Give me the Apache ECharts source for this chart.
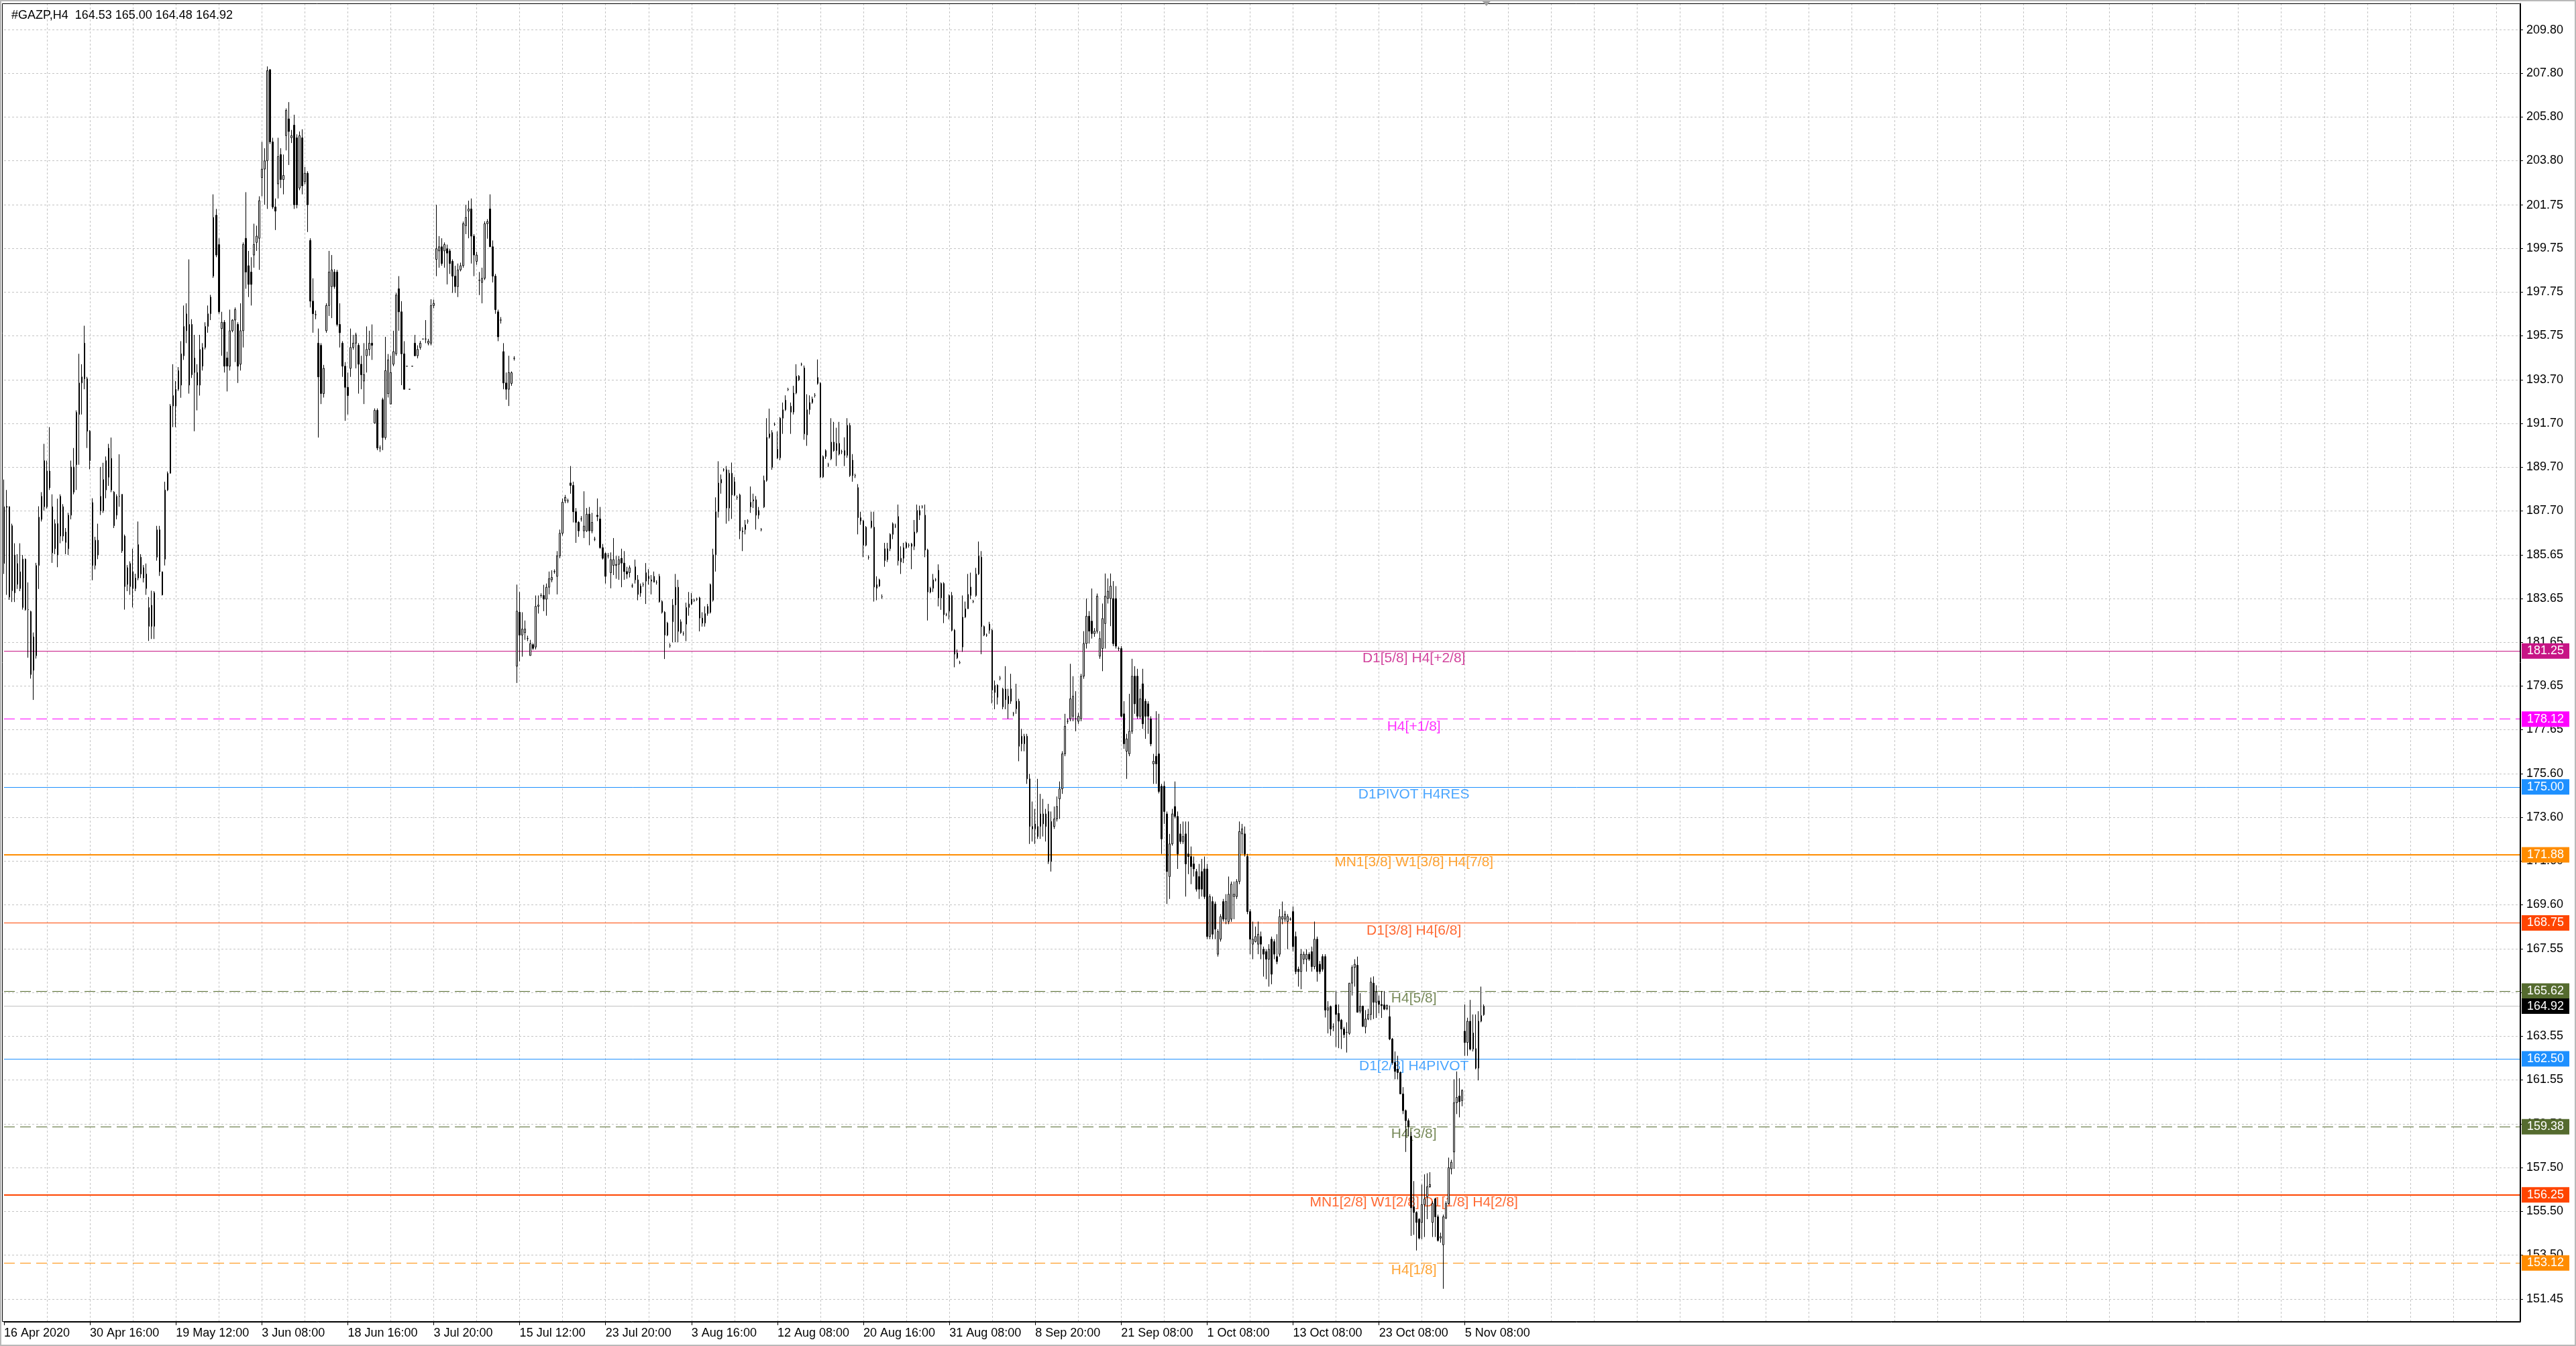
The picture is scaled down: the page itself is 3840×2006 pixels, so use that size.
<!DOCTYPE html>
<html><head><meta charset="utf-8">
<script src="https://cdn.jsdelivr.net/npm/echarts@6/dist/echarts.min.js"></script>
<style>html,body{margin:0;padding:0;background:#fff}#c{width:3840px;height:2006px}</style>
</head><body><div id="c"></div>
<script>
// ---------------- DATA ----------------
const symbolName = '#GAZP,H4';
const timeLabels = ['16 Apr 2020','30 Apr 16:00','19 May 12:00','3 Jun 08:00','18 Jun 16:00','3 Jul 20:00','15 Jul 12:00','23 Jul 20:00','3 Aug 16:00','12 Aug 08:00','20 Aug 16:00','31 Aug 08:00','8 Sep 20:00','21 Sep 08:00','1 Oct 08:00','13 Oct 08:00','23 Oct 08:00','5 Nov 08:00'];
const priceTicks = [209.80,207.80,205.80,203.80,201.75,199.75,197.75,195.75,193.70,191.70,189.70,187.70,185.65,183.65,181.65,179.65,177.65,175.60,173.60,171.60,169.60,167.55,165.55,163.55,161.55,159.50,157.50,155.50,153.50,151.45];
const levelValues = [181.25,178.12,175.00,171.88,168.75,165.62,162.50,159.38,156.25,153.12];
const levelTexts = ['D1[5/8] H4[+2/8]','H4[+1/8]','D1PIVOT H4RES','MN1[3/8] W1[3/8] H4[7/8]','D1[3/8] H4[6/8]','H4[5/8]','D1[2/8] H4PIVOT','H4[3/8]','MN1[2/8] W1[2/8] D1[1/8] H4[2/8]','H4[1/8]'];
const bidPrice = 164.92;

// candles: [open, close, low, high]
const candlesAprMay = [
[185.27,187.88,184.79,189.13],[187.90,187.85,183.83,188.65],[187.88,183.73,183.60,187.90],[187.01,184.02,183.50,187.10],
[185.66,183.92,183.50,186.20],[184.31,185.27,184.10,185.70],[184.12,184.89,184.00,186.20],[185.47,183.25,183.15,185.66],
[183.15,185.47,183.10,185.50],[183.15,183.15,180.94,184.40],[183.06,180.17,179.98,183.10],[180.36,181.90,179.00,182.10],
[181.03,185.18,180.90,185.30],[185.18,187.40,184.10,187.90],[187.30,188.36,187.20,188.55],[187.88,190.00,187.70,190.77],
[187.88,189.52,187.80,190.00],[189.52,188.75,188.65,191.54],[187.88,185.76,185.30,188.45],[187.10,185.95,185.70,187.30],
[185.66,187.11,185.10,188.25],[186.53,188.36,186.20,188.45],[187.88,186.53,186.30,188.00],[186.72,186.24,185.70,186.90],
[185.95,187.49,185.66,187.60],[187.49,189.71,187.30,190.00],[189.71,188.55,188.45,190.58],[189.81,192.22,188.65,192.31],
[192.12,193.57,189.81,194.91],[193.57,193.85,192.12,194.43],[195.40,193.76,193.28,196.20],[193.76,191.35,190.58,193.85],
[191.35,190.00,189.60,191.40],[188.07,185.18,184.50,188.27],[185.18,186.34,185.00,186.50],[186.34,185.66,185.47,187.10],
[187.69,188.36,187.50,189.71],[187.69,189.13,187.60,189.90],[188.65,190.00,188.27,190.19],[189.23,190.58,188.84,190.77],
[190.10,188.65,188.55,191.06],[188.55,187.01,186.90,188.60],[187.49,188.36,187.30,188.45],[188.36,188.36,187.88,190.29],
[188.45,185.85,185.76,188.45],[186.53,184.21,183.15,186.60],[185.08,184.31,184.00,185.20],[184.21,185.27,183.83,185.37],
[184.89,184.12,183.25,185.95],[184.12,184.60,184.00,184.80],[184.60,186.14,184.50,187.20],[185.56,184.79,184.60,185.70],
[184.60,185.08,184.40,185.20],[184.79,184.12,183.83,185.27],[182.38,183.25,181.71,183.73],[183.35,182.38,181.80,184.02],
[182.38,183.93,181.80,184.00],[185.56,186.82,185.40,187.00],[186.82,184.89,184.70,187.00],[184.89,183.83,183.80,184.90],
[185.47,188.65,185.18,189.03],[188.65,189.42,188.60,189.50],[189.42,192.51,189.40,192.60],[192.51,192.99,191.54,194.43]
];
const candlesMayJun = [
[192.51,193.28,191.54,193.66],[193.28,194.14,193.20,194.30],[193.47,194.91,192.89,195.49],[194.82,196.17,194.63,197.13],
[195.97,196.75,195.40,197.23],[196.26,193.47,193.08,199.25],[196.26,193.95,193.80,196.50],[194.05,194.72,191.35,195.78],
[194.05,193.47,192.31,194.43],[193.47,195.11,192.99,195.78],[195.20,194.34,194.14,195.40],[195.20,196.17,195.11,196.36],
[196.17,196.75,195.88,197.13],[196.75,197.52,196.46,197.62],[198.48,201.18,198.40,202.24],[201.28,199.45,199.35,201.57],
[199.93,196.84,196.75,200.22],[196.07,196.36,194.82,196.84],[196.36,194.34,194.05,196.46],[194.72,194.34,193.18,195.01],
[194.34,195.97,194.14,196.94],[195.97,196.46,195.90,196.50],[196.46,196.94,194.53,197.04],[196.26,194.34,193.57,196.36],
[194.43,195.97,194.14,197.23],[195.97,199.93,195.20,200.03],[200.22,198.67,197.90,202.34],[198.96,198.10,197.52,199.64],
[198.67,198.10,197.13,199.35],[199.45,199.93,198.87,200.89],[200.03,200.32,199.64,200.80],[200.22,201.95,198.77,202.15],
[203.01,203.40,202.15,204.65],[203.40,203.78,201.76,204.36],[203.78,207.93,201.57,208.12],[207.97,204.65,204.55,208.00],
[204.65,201.66,201.57,204.84],[201.66,201.47,200.60,202.05],[202.72,203.98,202.05,204.84],[204.07,202.92,202.53,204.36],
[202.92,203.11,202.24,204.07],[204.94,206.10,204.26,206.19],[205.71,205.13,203.59,206.48],[204.84,204.94,204.60,205.20],
[205.42,201.76,201.57,205.90],[204.84,201.76,201.60,205.00],[202.53,204.94,202.43,205.13],[204.84,202.63,202.24,205.23],
[202.82,203.21,202.70,203.50],[203.21,201.76,200.51,203.30],[200.12,197.33,197.04,200.22],[197.33,196.75,195.88,198.38],
[196.71,196.71,196.50,196.90],[195.40,193.85,191.06,196.07],[195.30,193.08,192.60,195.40],[193.08,194.24,192.90,194.40],
[195.97,197.13,195.88,197.23],[197.13,198.67,196.65,199.64],[198.00,198.77,196.55,199.45],[198.67,198.00,197.90,198.80],
[198.67,196.26,196.17,198.77],[196.26,195.88,195.20,197.23],[195.40,194.34,193.85,195.49],[194.34,193.37,191.83,194.53]
];
const candlesJunJul = [
[193.37,192.99,192.12,194.05],[194.24,195.20,193.85,196.07],[195.20,195.40,195.10,195.78],[195.40,195.78,194.24,195.88],
[195.30,194.43,193.08,195.40],[194.43,193.95,193.28,194.82],[193.66,193.95,192.60,195.40],[194.82,195.11,194.05,196.17],
[195.11,195.40,194.82,195.97],[195.40,195.30,194.63,196.26],[191.73,192.31,191.70,192.40],[192.31,190.58,190.48,192.40],
[190.58,190.58,190.40,190.70],[192.80,191.06,190.48,192.89],[191.06,194.14,190.96,195.69],[193.08,194.63,192.90,194.90],
[192.60,194.05,192.60,194.82],[194.43,195.01,194.34,195.97],[194.91,197.61,194.82,197.71],[197.90,196.84,195.97,198.48],
[196.84,194.91,193.47,197.33],[194.91,193.28,193.28,195.49],[194.34,194.34,194.34,194.34],[193.28,193.28,193.28,193.28],
[194.34,194.34,194.34,194.34],[195.40,194.82,194.80,195.78],[194.82,195.11,194.70,195.30],[195.20,195.40,195.10,195.50],
[195.59,195.59,195.59,195.59],[195.59,195.59,195.40,196.46],[195.40,195.49,195.30,195.60],[195.40,197.13,195.30,197.42],
[197.13,197.23,197.00,197.40],[199.25,199.74,198.48,201.76],[199.64,199.83,198.87,200.32],[199.83,199.06,198.96,200.22],
[199.64,199.93,198.87,200.03],[199.74,199.54,198.10,199.93],[199.64,199.06,198.58,199.74],[199.16,198.48,197.71,199.25],
[198.48,198.00,197.71,198.96],[198.00,198.77,197.52,199.06],[198.77,198.96,198.70,199.10],[198.96,200.89,198.87,200.99],
[200.80,201.18,200.41,201.76],[201.47,201.57,200.22,201.95],[201.57,200.32,199.06,202.05],[200.32,199.45,198.48,200.41],
[199.16,199.45,199.00,199.60],[198.29,198.29,197.61,198.67],[198.19,198.38,197.23,198.87],[198.38,200.89,198.30,201.00],
[200.89,200.99,200.20,201.10],[201.57,199.83,199.83,202.24],[199.83,198.48,198.19,200.12],[198.48,196.94,196.75,198.58],
[196.84,195.69,195.49,196.94],[196.46,196.46,196.30,196.60],[195.01,193.57,193.28,195.40],[193.57,193.28,192.80,194.05],
[193.28,194.05,192.51,194.82],[193.55,194.04,193.44,194.10],[194.70,194.70,194.60,194.80]
];
const candlesJulAug = [
[180.55,183.08,179.78,184.30],[183.03,181.98,180.77,183.96],[181.98,182.26,180.99,183.03],[182.09,182.26,181.76,182.65],
[181.82,181.82,181.70,181.95],[181.04,181.59,181.04,181.76],[181.54,181.37,181.30,181.60],[181.43,183.30,181.32,183.80],
[183.30,183.36,182.97,183.80],[183.80,183.80,183.70,183.90],[183.80,183.63,183.08,184.29],[183.63,184.18,182.87,184.35],
[184.18,184.57,183.85,184.90],[184.52,184.63,184.41,184.96],[184.90,184.90,184.80,185.00],[184.68,185.62,183.85,185.84],
[185.62,186.66,185.51,186.83],[186.66,188.09,186.55,188.26],[188.15,188.31,188.04,188.42],[188.15,188.15,188.05,188.25],
[188.97,188.86,188.48,189.75],[188.86,187.65,187.16,189.03],[187.65,187.16,186.22,187.82],[187.16,186.77,186.50,187.22],
[187.32,187.32,187.20,187.45],[186.77,186.99,186.44,188.59],[186.77,187.54,186.72,187.82],[187.54,186.77,186.11,187.87],
[186.77,187.16,186.66,187.60],[186.39,186.39,186.30,186.50],[187.49,187.43,187.22,188.26],[187.32,186.00,185.95,187.87],
[186.00,185.51,185.45,186.17],[185.73,184.68,184.35,185.78],[185.62,185.62,185.50,185.75],[184.85,185.45,184.13,185.78],
[185.18,185.45,184.74,186.44],[185.18,185.23,184.57,185.62],[185.23,185.45,184.52,185.62],[185.51,185.29,184.18,185.95],
[185.29,184.90,184.52,185.84],[184.90,184.79,184.57,185.12],[184.85,185.07,184.63,185.18],[184.24,184.24,184.15,184.35],
[185.12,184.52,184.35,185.45],[184.52,183.85,183.58,184.74],[183.91,184.24,183.74,184.35],[184.30,184.30,184.20,184.40],
[184.46,184.85,183.41,185.29],[184.57,184.68,184.30,185.01],[184.52,184.46,183.85,184.74],[184.41,184.68,184.41,184.90],
[184.41,184.41,184.30,184.50],[184.68,183.52,183.47,184.79],[183.52,183.03,182.97,183.58],[183.03,181.98,180.88,183.08],
[181.98,182.53,181.93,182.59],[181.49,181.49,181.40,181.60],[182.59,183.36,181.65,183.63],[183.36,184.18,181.65,184.79],
[184.18,182.15,181.65,184.52],[182.09,182.59,182.04,182.70],[182.04,182.04,181.95,182.15],[182.48,183.25,181.70,183.47]
];
const candlesAug = [
[183.25,183.41,182.87,183.96],[183.41,183.63,183.36,183.91],[183.58,183.58,183.50,183.65],[183.63,183.63,183.55,183.70],
[183.69,182.76,182.15,183.74],[182.76,182.53,182.37,183.03],[182.53,182.97,182.37,183.30],[182.97,183.30,182.87,183.41],
[184.30,183.03,182.97,184.35],[183.58,185.67,183.52,185.95],[185.67,187.65,184.90,188.31],[187.65,188.97,187.38,189.97],
[188.97,189.14,188.48,189.36],[189.58,189.58,189.50,189.65],[189.58,187.82,187.10,189.75],[189.42,187.82,187.22,189.58],
[189.42,188.42,187.32,189.91],[188.42,189.03,188.37,189.25],[188.31,188.31,188.20,188.40],[188.42,186.77,186.39,188.48],
[186.72,186.77,185.84,186.94],[186.83,187.05,186.61,187.27],[187.22,187.22,187.10,187.30],[187.87,188.09,187.60,188.81],
[188.15,188.20,187.82,188.48],[188.20,187.49,186.83,188.37],[187.49,187.71,187.32,187.87],[186.83,186.83,186.75,186.90],
[187.87,189.09,187.82,189.31],[189.09,191.07,189.03,191.95],[191.07,191.23,191.01,192.39],[191.29,189.69,189.58,191.40],
[191.67,191.67,191.60,191.75],[190.52,190.13,190.08,191.34],[190.13,191.95,190.02,192.00],[191.95,192.34,191.23,192.67],
[192.34,192.78,192.28,193.00],[193.27,193.27,193.20,193.35],[192.50,192.23,191.23,192.67],[192.23,193.11,192.12,193.44],
[193.11,193.88,193.05,194.43],[193.88,193.71,193.66,193.93],[194.43,194.43,194.35,194.50],[194.26,191.23,190.96,194.37],
[191.18,192.34,190.68,193.05],[192.34,192.67,192.12,193.00],[192.67,192.83,192.61,192.94],[193.00,193.00,192.90,193.10],
[193.82,193.55,193.49,194.65],[193.55,189.25,189.20,193.60],[189.25,190.19,189.20,190.24],[190.19,190.46,190.08,190.52],
[189.80,189.80,189.70,189.90],[190.08,190.85,190.02,191.95],[190.85,190.46,190.41,191.78],[190.46,190.79,189.75,191.51],
[190.79,190.30,190.24,191.78],[190.41,190.41,190.30,190.50],[190.46,190.24,189.75,191.07],[190.24,191.62,190.13,191.95],
[191.62,189.31,189.25,191.73],[190.02,189.31,189.03,190.30],[189.31,189.31,189.20,189.40],[188.76,187.38,186.61,188.92],
[187.38,187.22,187.05,187.65],[187.22,186.11,185.56,187.27]
];
const candlesAugSep = [
[186.11,186.94,186.06,186.99],[185.56,185.56,185.45,185.65],[187.22,186.94,186.88,187.65],[186.94,184.19,183.52,187.65],
[184.13,184.30,183.58,184.68],[184.24,184.52,184.19,184.57],[183.74,183.74,183.65,183.85],[185.40,185.95,185.12,186.22],
[185.45,185.95,185.34,186.22],[185.95,186.61,185.84,186.66],[186.61,187.10,186.39,187.16],[186.99,186.99,186.90,187.10],
[187.43,185.40,185.18,187.98],[185.34,185.51,184.79,186.06],[185.51,186.00,185.29,186.22],[186.00,186.22,185.95,186.28],
[186.11,186.11,186.00,186.20],[186.17,186.06,185.01,186.22],[186.06,186.72,185.89,187.27],[186.72,187.71,186.66,187.98],
[187.49,187.71,187.27,187.93],[187.87,187.87,187.80,187.95],[187.49,185.89,185.56,187.98],[185.89,183.96,182.65,185.95],
[183.96,184.13,183.90,184.20],[184.13,184.52,183.96,184.79],[184.52,184.52,184.45,184.60],[184.96,183.69,183.30,185.23],
[184.35,183.69,183.14,184.40],[184.35,182.92,182.53,184.41],[182.92,182.92,182.85,183.00],[183.08,183.80,182.70,183.85],
[183.80,182.20,182.15,183.96],[182.20,181.10,180.50,182.26],[181.16,180.94,180.88,181.32],[180.71,180.71,180.65,180.80],
[181.43,182.81,181.21,183.80],[182.81,183.19,182.76,183.52],[183.19,183.85,183.19,184.79],[183.80,184.19,183.63,184.85],
[183.52,183.52,183.45,183.60],[183.80,184.79,183.74,185.07],[184.79,185.62,184.74,186.28],[185.56,182.37,181.10,185.84],
[182.37,181.98,181.93,182.42],[181.98,181.98,181.90,182.05],[182.48,182.20,182.04,182.59],[182.20,179.45,178.84,182.26],
[179.34,179.67,178.57,179.89],[179.67,179.12,178.79,179.72],[180.00,180.00,179.90,180.10],[178.68,179.50,178.57,179.56],
[179.50,179.01,178.57,180.55],[179.17,178.82,178.13,179.51],[178.94,179.51,178.82,180.20],[178.36,178.36,178.25,178.45],
[178.59,178.94,178.36,179.74],[178.94,176.87,176.18,179.05],[177.33,176.98,176.64,177.67],[176.98,177.33,176.64,177.44],
[177.33,175.37,175.14,177.44],[175.37,173.18,172.38,175.60],[173.18,173.07,172.49,174.33],[173.07,173.30,172.38,173.99],
[173.18,172.72,172.61,175.37],[173.18,173.76,172.61,174.68],[173.30,173.76,172.72,174.45],[173.76,173.18,172.49,173.99],
[173.87,171.57,171.46,174.22],[173.41,171.57,171.11,173.87]
];
const candlesSepOct = [
[173.18,173.53,173.07,174.10],[173.53,174.10,173.41,174.56],[174.45,174.91,173.53,175.25],[174.91,176.52,174.68,176.64],
[176.52,177.79,176.41,178.36],[178.02,178.02,177.90,178.15],[178.13,179.05,178.02,180.66],[178.25,179.17,178.02,180.09],
[178.13,178.13,177.56,179.40],[178.02,178.25,177.90,178.40],[178.13,180.09,178.02,180.20],[180.09,181.59,179.97,182.16],
[181.59,182.85,181.36,183.66],[182.85,182.16,181.59,183.08],[182.62,182.05,181.82,184.12],[182.05,182.16,181.90,182.30],
[182.16,183.77,182.05,183.89],[181.01,181.82,180.89,182.16],[181.36,182.74,180.32,183.43],[182.51,183.77,181.36,184.81],
[183.66,184.00,183.43,184.58],[183.66,184.23,182.39,184.81],[183.66,181.59,181.47,184.46],[183.66,181.47,181.36,184.23],
[181.36,181.36,181.25,181.45],[181.36,178.25,178.20,181.47],[178.36,176.98,176.75,178.94],[176.64,177.21,175.37,177.44],
[176.52,177.56,176.41,179.28],[177.56,180.09,177.44,180.89],[180.09,178.82,178.36,180.55],[180.09,178.25,178.13,180.43],
[178.25,179.05,178.13,179.51],[179.74,177.90,177.67,180.43],[178.94,178.25,177.21,179.05],[178.82,178.25,177.44,178.94],
[178.13,176.98,176.87,178.25],[176.06,176.18,175.14,176.52],[176.41,176.06,175.14,178.48],[176.52,174.79,174.70,178.36],
[175.03,172.61,171.92,175.14],[175.03,173.87,173.30,175.25],[173.76,171.11,169.62,173.87],[170.88,172.38,169.85,172.84],
[172.38,173.76,172.30,173.99],[174.10,173.64,173.55,175.25],[173.64,171.92,171.23,173.87],[172.84,172.49,172.38,173.30],
[172.49,172.72,172.38,173.41],[172.84,171.46,169.96,173.41],[171.92,171.80,170.99,173.41],[171.80,171.34,170.53,172.26],
[171.46,171.23,170.88,171.80],[171.11,170.30,170.19,171.23],[170.88,170.30,169.85,171.46],[171.11,170.30,169.96,171.69],
[171.23,169.96,169.85,171.80],[171.23,168.12,168.00,171.46],[168.12,169.96,168.00,170.07],[169.73,168.23,168.00,169.96],
[169.62,168.46,168.00,169.73],[167.31,168.35,167.20,168.46],[168.00,169.04,167.89,169.15],[169.73,168.92,168.81,169.85],
[168.92,169.73,168.69,170.07],[168.81,170.07,168.69,170.88],[168.92,170.53,168.80,170.65],[169.96,170.07,168.92,170.65],
[169.96,170.65,169.85,170.76],[170.65,172.95,170.53,173.41],[172.84,173.07,171.92,173.30]
];
const candlesOct = [
[172.84,171.92,171.80,173.18],[171.80,169.27,169.15,171.92],[169.27,168.00,167.31,169.38],[167.77,168.00,167.08,168.81],
[167.89,168.12,167.85,168.58],[167.77,168.23,167.31,168.81],[168.12,167.77,167.08,168.35],[167.54,167.31,166.28,167.66],
[167.43,167.08,166.16,167.54],[167.08,167.54,165.82,167.77],[168.00,166.39,165.93,168.12],[167.89,167.31,167.08,168.00],
[167.20,166.97,166.85,168.23],[167.31,169.04,167.20,169.38],[168.92,169.04,168.69,169.73],[168.92,169.15,168.80,169.30],
[168.81,169.04,167.54,169.15],[168.92,168.92,168.85,169.00],[169.27,167.66,167.43,169.50],[168.12,166.51,166.39,168.35],
[166.62,166.51,165.82,166.74],[166.51,167.31,165.70,167.54],[167.08,167.31,166.85,167.43],[167.08,167.31,166.51,167.54],
[167.31,167.08,167.00,167.40],[167.43,166.74,166.51,167.66],[166.74,168.00,166.62,168.81],[168.00,166.51,166.05,168.12],
[166.85,166.51,166.40,167.00],[167.20,166.62,166.51,167.31]
];
const candlesOctNov = [
[167.20,164.74,164.40,167.31],[164.74,164.85,163.67,165.15],[164.90,163.87,163.56,164.95],[163.97,163.97,163.77,164.13],
[164.98,164.54,163.05,165.62],[164.59,164.23,162.99,165.00],[164.28,163.87,162.95,164.33],[163.87,163.61,163.46,163.97],
[163.72,163.72,162.79,164.18],[163.67,165.98,163.60,165.98],[165.98,166.70,165.41,166.80],[166.70,166.85,165.82,167.08],
[166.80,164.64,164.64,167.20],[164.69,164.92,164.59,165.52],[164.92,163.99,163.97,164.95],[163.97,164.33,163.67,164.74],
[164.33,164.54,164.28,164.80],[164.54,166.03,164.28,166.24],[165.98,165.10,164.33,166.29],[165.10,165.57,164.38,165.88],
[165.16,165.00,164.59,165.41],[165.00,164.95,164.38,165.62],[164.98,164.78,164.74,165.62],[164.80,164.95,164.74,165.00],
[164.44,163.41,163.36,164.95],[163.41,162.33,162.23,163.46],[162.33,161.92,161.56,162.84],[162.02,161.87,161.56,162.64],
[161.87,160.89,160.89,161.92],[160.89,160.12,159.96,161.20],[160.12,159.66,158.22,160.17],[159.66,159.40,158.94,159.76],
[158.94,155.65,154.36,159.14],[155.70,155.44,154.41,156.88],[155.44,154.98,153.69,155.49],[155.13,154.26,154.20,155.18],
[154.98,155.80,154.21,156.72],[155.80,156.06,154.31,157.19],[156.16,156.62,155.13,157.24],[156.62,156.72,156.57,157.29],
[154.98,155.85,154.31,155.95],[156.06,155.24,154.31,156.11],[155.24,154.15,154.10,155.34],[154.26,154.33,154.05,154.51],
[153.95,155.24,151.93,155.34],[155.18,155.85,155.13,155.95],[155.85,157.50,155.80,157.96],[157.44,157.75,157.19,157.86],
[158.22,160.48,157.44,161.56],[160.48,160.73,159.96,161.92],[160.79,160.53,159.81,161.61],[160.58,161.04,160.32,161.10],
[163.77,163.25,162.64,165.00],[163.25,164.23,162.64,164.39],[164.23,162.95,162.89,165.21],[163.69,162.95,162.84,164.54],
[162.97,162.07,162.02,164.54],[162.07,164.23,161.51,164.69],[164.23,164.49,164.18,165.82],[164.53,164.92,164.48,165.00]
];

// ---------------- STYLE / LAYOUT ----------------
const FONT = '"Liberation Sans", Arial, sans-serif';
const LEVEL_STYLE = [
  {color:'#C71585', type:'solid', width:1},
  {color:'#FF00FF', type:[16,8], width:1},
  {color:'#1E90FF', type:'solid', width:1},
  {color:'#FF8C00', type:'solid', width:2},
  {color:'#FF4500', type:'solid', width:1},
  {color:'#556B2F', type:[16,8], width:1},
  {color:'#1E90FF', type:'solid', width:1},
  {color:'#556B2F', type:[16,8], width:1},
  {color:'#FF4500', type:'solid', width:2},
  {color:'#FF8C00', type:[16,8], width:1}
];
const SLOTS = 938;        // visible bar slots across the chart width
const LABEL_EVERY = 32;   // time label every 32 bars
const GRID_EVERY = 16;    // vertical grid every 16 bars
const LEVEL_TEXT_SLOT = 525;

const candles = [].concat(candlesAprMay, candlesMayJun, candlesJunJul, candlesJulAug, candlesAug, candlesAugSep, candlesSepOct, candlesOct, candlesOctNov);
const categories = [];
for (let i = 0; i < SLOTS; i++) {
  const k = i / LABEL_EVERY;
  categories.push(i % LABEL_EVERY === 0 && timeLabels[k] ? timeLabels[k] : '#' + i);
}
const lastBar = candles[candles.length - 1];
const headerText = symbolName + '  ' + lastBar[0].toFixed(2) + ' ' + lastBar[3].toFixed(2) + ' ' + lastBar[2].toFixed(2) + ' ' + lastBar[1].toFixed(2);

const tagLabel = (value, bg) => ({
  show: true, position: 'end', distance: 2, formatter: value.toFixed(2),
  backgroundColor: bg, color: '#fff', padding: [3, 8, 2, 8],
  fontFamily: FONT, fontSize: 18
});

const markLines = levelValues.map((v, k) => ({
  yAxis: v,
  lineStyle: {color: LEVEL_STYLE[k].color, type: LEVEL_STYLE[k].type, width: LEVEL_STYLE[k].width},
  label: tagLabel(v, LEVEL_STYLE[k].color)
}));
markLines.push({
  yAxis: bidPrice,
  lineStyle: {color: '#C0C0C0', type: 'solid', width: 1},
  label: tagLabel(bidPrice, '#000000')
});

const chart = echarts.init(document.getElementById('c'), null, {renderer: 'canvas', width: 3840, height: 2006});
const isLabelIdx = (i) => i % LABEL_EVERY === 0 && i / LABEL_EVERY < timeLabels.length;

chart.setOption({
  animation: false,
  backgroundColor: '#ffffff',
  title: {
    text: headerText, left: 12, top: 9,
    textStyle: {fontFamily: FONT, fontSize: 18, fontWeight: 'normal', color: '#000'}
  },
  grid: {left: 6, right: 83, top: 5, bottom: 36, containLabel: false, outerBoundsMode: 'none'},
  xAxis: {
    type: 'category', data: categories, boundaryGap: false,
    axisLine: {show: true, lineStyle: {color: '#000', width: 1}},
    axisTick: {show: true, interval: (i) => isLabelIdx(i), length: 5, lineStyle: {color: '#000'}},
    axisLabel: {
      show: true, interval: (i) => isLabelIdx(i), align: 'left', margin: 8,
      fontFamily: FONT, fontSize: 18, color: '#000',
      formatter: (v) => (v.charAt(0) === '#' ? '' : v)
    },
    splitLine: {show: true, interval: (i) => i % GRID_EVERY === 0 && i > 0,
      lineStyle: {color: '#c4c4c4', type: [3, 3], width: 1}}
  },
  yAxis: {
    type: 'value', position: 'right', min: 150.41, max: 211.02, scale: true,
    axisLine: {show: true, lineStyle: {color: '#000', width: 1}},
    axisTick: {show: true, customValues: priceTicks, length: 4, lineStyle: {color: '#000'}},
    axisLabel: {show: true, customValues: priceTicks, margin: 9, formatter: (v) => Number(v).toFixed(2),
      fontFamily: FONT, fontSize: 18, color: '#000'},
    splitLine: {show: true, lineStyle: {color: '#c4c4c4', type: [3, 3], width: 1}}
  },
  series: [
    {
      type: 'scatter', name: 'levels', z: 1, silent: true,
      symbolSize: 0,
      data: levelValues.map((v, k) => ({value: [LEVEL_TEXT_SLOT, v], label: {color: LEVEL_STYLE[k].color}})),
      label: {show: true, position: 'bottom', distance: 1, fontFamily: FONT, fontSize: 21,
        formatter: (p) => levelTexts[p.dataIndex]},
      markLine: {silent: true, symbol: 'none', z: 1, animation: false, data: markLines}
    },
    {
      type: 'candlestick', name: symbolName, z: 3, data: candles, barWidth: 2, large: false, clip: false,
      itemStyle: {color: '#ffffff', color0: '#000000', borderColor: '#000000', borderColor0: '#000000', borderWidth: 1}
    }
  ]
});

// chart-shift marker and frames
const shiftX = chart.convertToPixel({xAxisIndex: 0}, candles.length);
chart.setOption({
  graphic: [
    {type: 'rect', silent: true, z: 100, shape: {x: 1, y: 1, width: 3838, height: 2004},
      style: {fill: 'none', stroke: '#b8b8b8', lineWidth: 2}},
    {type: 'rect', silent: true, z: 100, shape: {x: 3.5, y: 5.5, width: 3753, height: 1964},
      style: {fill: 'none', stroke: '#000', lineWidth: 1}},
    {type: 'polygon', silent: true, z: 101, shape: {points: [[shiftX - 6, 2], [shiftX + 6, 2], [shiftX, 9]]},
      style: {fill: '#a0a0a0'}}
  ]
});
</script>
</body></html>
